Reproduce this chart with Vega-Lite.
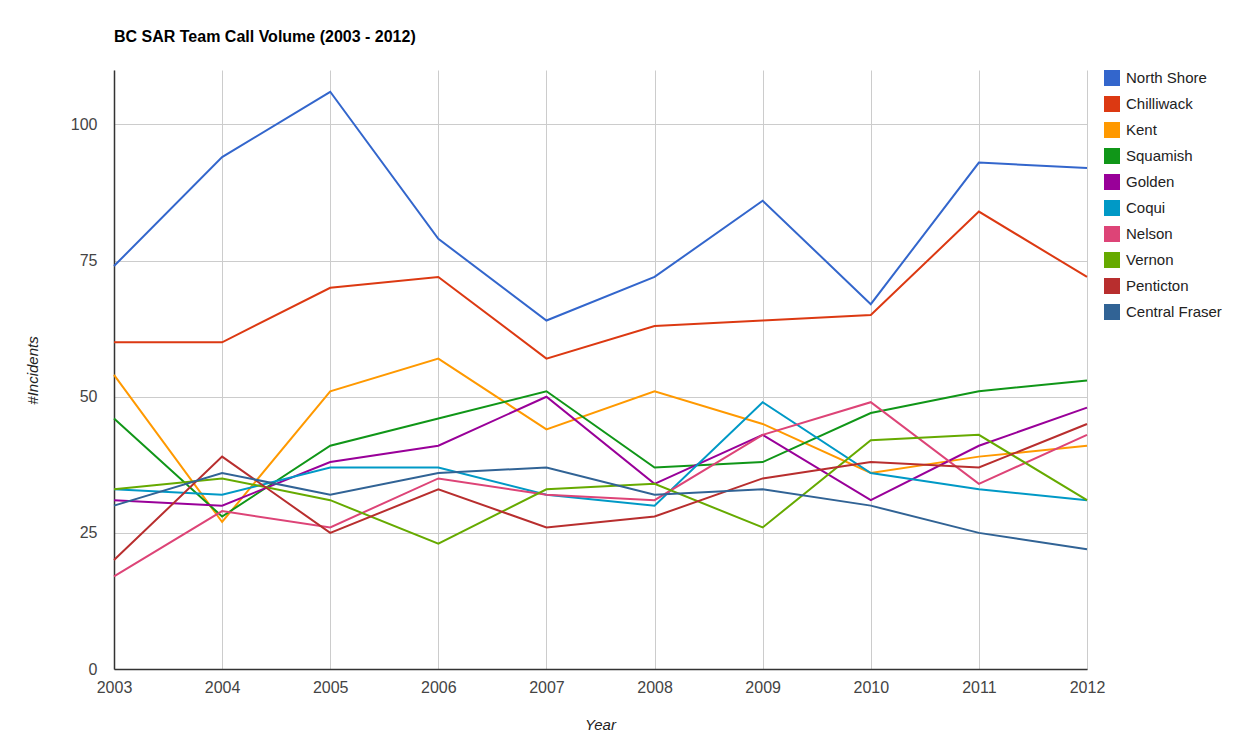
{
  "$schema": "https://vega.github.io/schema/vega-lite/v6.json",
  "autosize": "none",
  "width": 973,
  "height": 599,
  "padding": {"left": 114, "top": 70, "right": 166, "bottom": 72},
  "background": "white",
  "title": {"text": "BC SAR Team Call Volume (2003 - 2012)", "anchor": "start", "frame": "group", "font": "Liberation Sans", "fontSize": 16, "fontWeight": "bold", "color": "#000000", "offset": 25},
  "config": {"view": {"stroke": null}, "font": "Liberation Sans"},
  "data": {"values": [
    {"year": 2003, "team": "North Shore", "n": 74}, {"year": 2004, "team": "North Shore", "n": 94}, {"year": 2005, "team": "North Shore", "n": 106}, {"year": 2006, "team": "North Shore", "n": 79}, {"year": 2007, "team": "North Shore", "n": 64}, {"year": 2008, "team": "North Shore", "n": 72}, {"year": 2009, "team": "North Shore", "n": 86}, {"year": 2010, "team": "North Shore", "n": 67}, {"year": 2011, "team": "North Shore", "n": 93}, {"year": 2012, "team": "North Shore", "n": 92},
    {"year": 2003, "team": "Chilliwack", "n": 60}, {"year": 2004, "team": "Chilliwack", "n": 60}, {"year": 2005, "team": "Chilliwack", "n": 70}, {"year": 2006, "team": "Chilliwack", "n": 72}, {"year": 2007, "team": "Chilliwack", "n": 57}, {"year": 2008, "team": "Chilliwack", "n": 63}, {"year": 2009, "team": "Chilliwack", "n": 64}, {"year": 2010, "team": "Chilliwack", "n": 65}, {"year": 2011, "team": "Chilliwack", "n": 84}, {"year": 2012, "team": "Chilliwack", "n": 72},
    {"year": 2003, "team": "Kent", "n": 54}, {"year": 2004, "team": "Kent", "n": 27}, {"year": 2005, "team": "Kent", "n": 51}, {"year": 2006, "team": "Kent", "n": 57}, {"year": 2007, "team": "Kent", "n": 44}, {"year": 2008, "team": "Kent", "n": 51}, {"year": 2009, "team": "Kent", "n": 45}, {"year": 2010, "team": "Kent", "n": 36}, {"year": 2011, "team": "Kent", "n": 39}, {"year": 2012, "team": "Kent", "n": 41},
    {"year": 2003, "team": "Squamish", "n": 46}, {"year": 2004, "team": "Squamish", "n": 28}, {"year": 2005, "team": "Squamish", "n": 41}, {"year": 2006, "team": "Squamish", "n": 46}, {"year": 2007, "team": "Squamish", "n": 51}, {"year": 2008, "team": "Squamish", "n": 37}, {"year": 2009, "team": "Squamish", "n": 38}, {"year": 2010, "team": "Squamish", "n": 47}, {"year": 2011, "team": "Squamish", "n": 51}, {"year": 2012, "team": "Squamish", "n": 53},
    {"year": 2003, "team": "Golden", "n": 31}, {"year": 2004, "team": "Golden", "n": 30}, {"year": 2005, "team": "Golden", "n": 38}, {"year": 2006, "team": "Golden", "n": 41}, {"year": 2007, "team": "Golden", "n": 50}, {"year": 2008, "team": "Golden", "n": 34}, {"year": 2009, "team": "Golden", "n": 43}, {"year": 2010, "team": "Golden", "n": 31}, {"year": 2011, "team": "Golden", "n": 41}, {"year": 2012, "team": "Golden", "n": 48},
    {"year": 2003, "team": "Coqui", "n": 33}, {"year": 2004, "team": "Coqui", "n": 32}, {"year": 2005, "team": "Coqui", "n": 37}, {"year": 2006, "team": "Coqui", "n": 37}, {"year": 2007, "team": "Coqui", "n": 32}, {"year": 2008, "team": "Coqui", "n": 30}, {"year": 2009, "team": "Coqui", "n": 49}, {"year": 2010, "team": "Coqui", "n": 36}, {"year": 2011, "team": "Coqui", "n": 33}, {"year": 2012, "team": "Coqui", "n": 31},
    {"year": 2003, "team": "Nelson", "n": 17}, {"year": 2004, "team": "Nelson", "n": 29}, {"year": 2005, "team": "Nelson", "n": 26}, {"year": 2006, "team": "Nelson", "n": 35}, {"year": 2007, "team": "Nelson", "n": 32}, {"year": 2008, "team": "Nelson", "n": 31}, {"year": 2009, "team": "Nelson", "n": 43}, {"year": 2010, "team": "Nelson", "n": 49}, {"year": 2011, "team": "Nelson", "n": 34}, {"year": 2012, "team": "Nelson", "n": 43},
    {"year": 2003, "team": "Vernon", "n": 33}, {"year": 2004, "team": "Vernon", "n": 35}, {"year": 2005, "team": "Vernon", "n": 31}, {"year": 2006, "team": "Vernon", "n": 23}, {"year": 2007, "team": "Vernon", "n": 33}, {"year": 2008, "team": "Vernon", "n": 34}, {"year": 2009, "team": "Vernon", "n": 26}, {"year": 2010, "team": "Vernon", "n": 42}, {"year": 2011, "team": "Vernon", "n": 43}, {"year": 2012, "team": "Vernon", "n": 31},
    {"year": 2003, "team": "Penticton", "n": 20}, {"year": 2004, "team": "Penticton", "n": 39}, {"year": 2005, "team": "Penticton", "n": 25}, {"year": 2006, "team": "Penticton", "n": 33}, {"year": 2007, "team": "Penticton", "n": 26}, {"year": 2008, "team": "Penticton", "n": 28}, {"year": 2009, "team": "Penticton", "n": 35}, {"year": 2010, "team": "Penticton", "n": 38}, {"year": 2011, "team": "Penticton", "n": 37}, {"year": 2012, "team": "Penticton", "n": 45},
    {"year": 2003, "team": "Central Fraser", "n": 30}, {"year": 2004, "team": "Central Fraser", "n": 36}, {"year": 2005, "team": "Central Fraser", "n": 32}, {"year": 2006, "team": "Central Fraser", "n": 36}, {"year": 2007, "team": "Central Fraser", "n": 37}, {"year": 2008, "team": "Central Fraser", "n": 32}, {"year": 2009, "team": "Central Fraser", "n": 33}, {"year": 2010, "team": "Central Fraser", "n": 30}, {"year": 2011, "team": "Central Fraser", "n": 25}, {"year": 2012, "team": "Central Fraser", "n": 22}
  ]},
  "mark": {"type": "line", "strokeWidth": 2},
  "encoding": {
    "x": {"field": "year", "type": "quantitative", "scale": {"domain": [2003, 2012], "nice": false, "zero": false},
      "axis": {"values": [2003, 2004, 2005, 2006, 2007, 2008, 2009, 2010, 2011, 2012], "format": "d", "title": "Year", "titleFontStyle": "italic", "titleFontWeight": "normal", "titleFontSize": 15, "titleColor": "#222222", "titleX": 486, "titleY": 55, "titleBaseline": "middle", "labelFontSize": 16, "labelColor": "#444444", "labelFlush": false, "labelOverlap": false, "labelPadding": 10, "ticks": false, "grid": true, "gridColor": "#cccccc", "domainColor": "#333333", "domainWidth": 1.5}},
    "y": {"field": "n", "type": "quantitative", "scale": {"domain": [0, 110], "nice": false},
      "axis": {"values": [0, 25, 50, 75, 100], "title": "#Incidents", "titleFontStyle": "italic", "titleFontWeight": "normal", "titleFontSize": 15, "titleColor": "#222222", "titleX": -82, "titleY": 300, "titleAlign": "center", "titleBaseline": "middle", "labelFontSize": 16, "labelColor": "#444444", "labelPadding": 17, "ticks": false, "grid": true, "gridColor": "#cccccc", "domainColor": "#333333", "domainWidth": 1.5}},
    "color": {"field": "team", "type": "nominal",
      "scale": {"domain": ["North Shore", "Chilliwack", "Kent", "Squamish", "Golden", "Coqui", "Nelson", "Vernon", "Penticton", "Central Fraser"],
        "range": ["#3366cc", "#dc3912", "#ff9900", "#109618", "#990099", "#0099c6", "#dd4477", "#66aa00", "#b82e2e", "#316395"]},
      "legend": {"title": null, "orient": "none", "legendX": 990, "legendY": 0, "symbolType": "square", "symbolSize": 256, "symbolStrokeWidth": 0, "labelFontSize": 15, "labelColor": "#222222", "labelOffset": 6, "rowPadding": 10, "padding": 0,
        "encode": {"symbols": {"update": {"fill": {"scale": "color", "field": "value"}, "fillOpacity": {"value": 1}, "strokeWidth": {"value": 0}}}}}}
  }
}
